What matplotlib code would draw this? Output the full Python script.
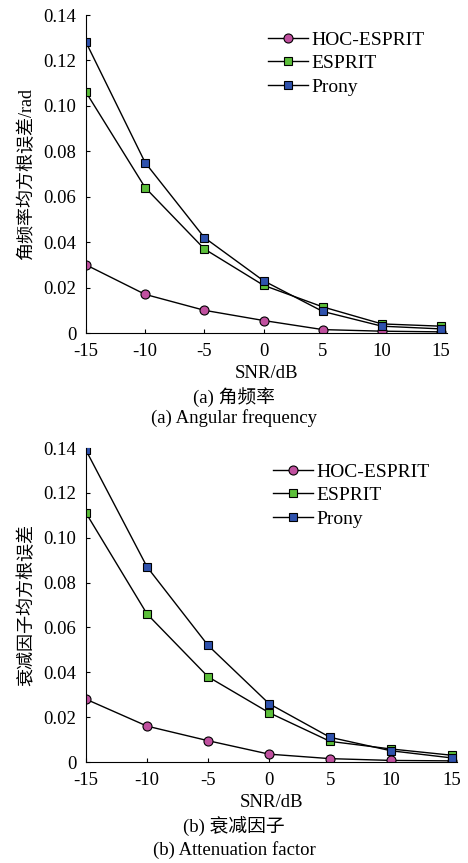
import numpy as np
import matplotlib.pyplot as plt

plt.rcParams['font.family'] = ['Liberation Serif', 'Noto Sans CJK SC']
plt.rcParams['font.size'] = 13

snr = [-15, -10, -5, 0, 5, 10, 15]
labels = ["HOC-ESPRIT", "ESPRIT", "Prony"]

# (a) angular frequency
freq_hoc = [0.030, 0.017, 0.010, 0.0055, 0.0015, 0.0008, 0.0005]
freq_esprit = [0.106, 0.064, 0.037, 0.021, 0.0115, 0.004, 0.003]
freq_prony = [0.128, 0.075, 0.042, 0.023, 0.0095, 0.003, 0.0018]

# (b) attenuation factor
att_hoc = [0.028, 0.016, 0.0095, 0.0035, 0.0015, 0.0007, 0.0005]
att_esprit = [0.111, 0.066, 0.038, 0.022, 0.0092, 0.0058, 0.003]
att_prony = [0.139, 0.087, 0.052, 0.026, 0.011, 0.005, 0.0018]

colors = ["#c0509f", "#5cbf3a", "#2f52ad"]
markers = ["o", "s", "s"]
sizes = [6.5, 6, 6]

fig = plt.figure(figsize=(4.68, 8.63), dpi=100)
ax1 = fig.add_axes([86/468, 1-333/863, (447-86)/468, (333-15)/863])
ax2 = fig.add_axes([86/468, 1-762/863, (457-86)/468, (762-448)/863])


def draw(ax, series, ylabel, xmax, anchor):
    for y, lab, c, m, s in zip(series, labels, colors, markers, sizes):
        ax.plot(snr, y, color="black", lw=1, marker=m, ms=s,
                mfc=c, mec="black", mew=0.8, label=lab)
    ax.set_xlim(-15, xmax)
    ax.set_ylim(0, 0.14)
    ax.set_xticks(snr)
    ax.set_xticklabels([str(v) for v in snr])
    ax.set_yticks(np.arange(0, 0.141, 0.02))
    ax.set_yticklabels(["0", "0.02", "0.04", "0.06", "0.08", "0.10", "0.12", "0.14"])
    ax.spines["top"].set_visible(False)
    ax.spines["right"].set_visible(False)
    ax.tick_params(direction="in", length=3, width=0.8, labelsize=13.5, pad=7)
    ax.set_xlabel("SNR/dB", fontsize=13.5, labelpad=4)
    ax.set_ylabel(ylabel, fontsize=13, labelpad=6)
    ax.legend(loc="upper left", bbox_to_anchor=anchor, bbox_transform=fig.transFigure,
              frameon=False, fontsize=14, handlelength=2.05, handletextpad=0.2,
              labelspacing=0.3, borderpad=0, borderaxespad=0)


draw(ax1, [freq_hoc, freq_esprit, freq_prony], "角频率均方根误差/rad", 15.5, (268/468, 1-31/863))
draw(ax2, [att_hoc, att_esprit, att_prony], "衰减因子均方根误差", 15.4, (273/468, 1-463/863))

fig.text(0.5, 1-397/863, "(a) 角频率", ha="center", va="center", fontsize=13.5)
fig.text(0.5, 1-418/863, "(a) Angular frequency", ha="center", va="center", fontsize=13.5)
fig.text(0.5, 1-827/863, "(b) 衰减因子", ha="center", va="center", fontsize=13.5)
fig.text(0.5, 1-850/863, "(b) Attenuation factor", ha="center", va="center", fontsize=13.5)

fig.savefig("out.png", dpi=100)
